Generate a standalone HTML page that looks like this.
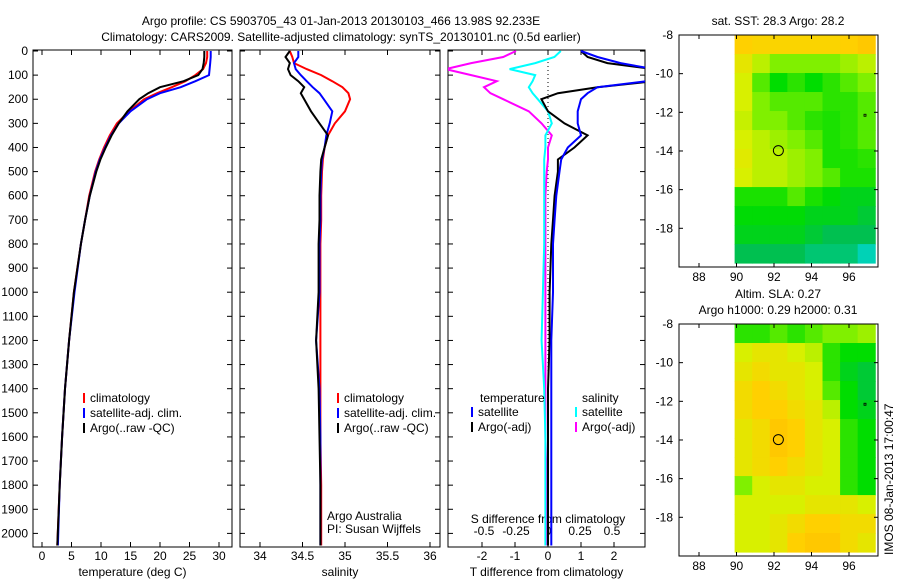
<!DOCTYPE html>
<html><head><meta charset="utf-8"><style>
body{margin:0;background:#fff;}
svg{display:block;font-family:"Liberation Sans",sans-serif;}
text{font-size:12px;fill:#000;}
</style></head><body>
<svg id="s" width="900" height="580" xmlns="http://www.w3.org/2000/svg">
<text x="341" y="25" text-anchor="middle">Argo profile: CS 5903705_43 01-Jan-2013 20130103_466 13.98S 92.233E</text>
<text x="341" y="41" text-anchor="middle">Climatology: CARS2009. Satellite-adjusted climatology: synTS_20130101.nc (0.5d earlier)</text>
<text x="778" y="25" text-anchor="middle">sat. SST: 28.3 Argo: 28.2</text>
<text x="778" y="298" text-anchor="middle">Altim. SLA: 0.27</text>
<text x="778" y="314" text-anchor="middle">Argo h1000: 0.29 h2000: 0.31</text>
<text transform="translate(893,555) rotate(-90)">IMOS 08-Jan-2013 17:00:47</text>
<g id="g"></g>
</svg>
<script>
// ---- data ----
const depthTicks=[0,100,200,300,400,500,600,700,800,900,1000,1100,1200,1300,1400,1500,1600,1700,1800,1900,2000];
const tempTicks=[0,5,10,15,20,25,30];
const salTicks=[34,34.5,35,35.5,36];
const tdTicks=[-2,-1,0,1,2];
const sdTicks=[-0.5,-0.25,0,0.25,0.5];
const lonTicks=[88,90,92,94,96];
const latTicks=[-8,-10,-12,-14,-16,-18];
const depths=[0,25,50,75,100,125,150,175,200,250,300,350,400,450,500,600,700,800,1000,1200,1400,1600,1800,2050];
const tempClim=[28.0,28.0,27.8,27.3,26.0,24.3,22.0,19.5,17.3,14.8,12.7,11.5,10.5,9.7,9.0,8.0,7.3,6.6,5.4,4.6,3.9,3.4,3.0,2.6];
const tempSat =[28.6,28.6,28.5,28.4,28.3,26.0,23.5,20.0,17.8,15.0,13.0,11.7,10.7,9.8,9.1,8.1,7.3,6.6,5.5,4.6,3.9,3.4,3.0,2.7];
const tempArgo=[27.5,27.5,27.4,27.2,26.5,24.0,20.0,18.0,16.5,14.5,13.0,11.8,10.8,9.9,9.2,8.1,7.3,6.6,5.4,4.6,3.9,3.4,3.0,2.6];
const salClim=[34.35,34.38,34.4,34.55,34.72,34.85,34.97,35.04,35.06,35.0,34.88,34.8,34.76,34.74,34.73,34.72,34.72,34.71,34.71,34.71,34.71,34.71,34.72,34.72];
const salSat =[34.45,34.45,34.4,34.42,34.48,34.55,34.62,34.7,34.75,34.85,34.82,34.78,34.76,34.73,34.72,34.71,34.71,34.7,34.7,34.66,34.7,34.71,34.71,34.71];
const salArgo=[34.35,34.3,34.35,34.33,34.36,34.45,34.52,34.48,34.52,34.6,34.7,34.8,34.76,34.72,34.71,34.7,34.7,34.69,34.69,34.66,34.69,34.7,34.71,34.71];
const tdSat =[1.0,1.5,2.2,3.2,3.2,3.0,1.5,1.2,1.0,0.9,0.9,1.0,0.6,0.4,0.35,0.25,0.2,0.15,0.15,0.1,0.1,0.1,0.1,0.1];
const tdArgo=[1.0,1.2,1.8,3.2,3.2,3.2,1.5,0.3,-0.2,0.0,0.5,1.2,0.8,0.3,0.3,0.2,0.15,0.1,0.05,0.05,0.0,0.0,0.0,0.0];
const sdSat =[0.1,0.05,-0.1,-0.3,-0.1,-0.12,-0.15,-0.12,-0.08,0.0,0.03,-0.02,-0.02,-0.03,-0.03,-0.03,-0.03,-0.03,-0.04,-0.05,-0.03,-0.02,-0.02,-0.02];
const sdArgo=[-0.25,-0.35,-0.6,-0.8,-0.6,-0.4,-0.5,-0.45,-0.35,-0.15,-0.05,0.03,0.0,0.0,-0.01,-0.02,-0.02,-0.02,-0.02,-0.02,-0.02,-0.02,-0.01,-0.01];
const sstGrid=[
[.2,.22,.22,.22,.22,.22,.2,.15],
[.3,.4,.5,.5,.5,.5,.45,.4],
[.35,.55,.65,.6,.65,.6,.55,.5],
[.35,.5,.55,.55,.55,.6,.6,.55],
[.38,.5,.5,.55,.6,.62,.6,.55],
[.35,.4,.45,.5,.55,.62,.6,.55],
[.32,.4,.4,.45,.5,.62,.62,.6],
[.35,.4,.4,.45,.5,.55,.62,.62],
[.62,.62,.62,.55,.62,.66,.7,.7],
[.66,.66,.66,.66,.7,.7,.7,.75],
[.7,.7,.7,.7,.75,.8,.8,.8],
[.8,.8,.8,.8,.85,.85,.85,.95]];
const slaGrid=[
[.6,.6,.55,.6,.55,.5,.5,.45],
[.35,.3,.3,.35,.4,.6,.65,.65],
[.3,.25,.3,.3,.35,.6,.7,.75],
[.25,.2,.25,.3,.35,.55,.65,.75],
[.25,.2,.2,.25,.3,.4,.65,.7],
[.3,.25,.15,.2,.3,.35,.6,.65],
[.3,.25,.15,.2,.3,.35,.6,.65],
[.3,.25,.2,.25,.3,.35,.6,.65],
[.5,.35,.3,.3,.35,.35,.6,.65],
[.35,.35,.35,.35,.3,.3,.3,.35],
[.35,.35,.3,.25,.2,.2,.25,.25],
[.35,.35,.3,.2,.15,.15,.25,.3]];
const argoLon=92.233, argoLat=-13.98;

const NS='http://www.w3.org/2000/svg', G=document.getElementById('g');
function el(t,a,p){const e=document.createElementNS(NS,t);for(const k in a)e.setAttribute(k,a[k]);(p||G).appendChild(e);return e;}
function txt(x,y,s,anchor,p){const e=el('text',{x:x,y:y,'text-anchor':anchor||'middle'},p);e.textContent=s;return e;}
const yD=d=>51+d*0.2412;
function lin(d0,d1,p0,p1){return v=>p0+(v-d0)*(p1-p0)/(d1-d0);}

function panel(name,x0,x1,xs,xticks,xfmt,xlab){
  const g=el('g',{});
  
  
  const r=el('rect',{x:x0,y:50,width:x1-x0,height:497,fill:'none',stroke:'#000'},g);
  
  
  xticks.forEach(t=>{const x=xs(t);el('line',{x1:x,x2:x,y1:547,y2:542,stroke:'#000'},g);el('line',{x1:x,x2:x,y1:50,y2:55,stroke:'#000'},g);
    const tl=txt(x,560,xfmt(t),'middle',g);});
  depthTicks.forEach(d=>{el('line',{x1:x0,x2:x0+5,y1:yD(d),y2:yD(d),stroke:'#000'},g);el('line',{x1:x1,x2:x1-5,y1:yD(d),y2:yD(d),stroke:'#000'},g);});
  if(xlab){const l=txt((x0+x1)/2,576,xlab,'middle',g);}
  return g;
}
function line(g,vals,xs,color,name,w){
  const clip=el('clipPath',{id:'c'+name},g);el('rect',{x:g.x0,y:50,width:g.w,height:497},clip);
  const pts=vals.map((v,i)=>xs(v).toFixed(1)+','+yD(depths[i]).toFixed(1)).join(' ');
  const p=el('polyline',{points:pts,fill:'none',stroke:color,'stroke-width':w||2,'clip-path':'url(#c'+name+')'},g);
  
  
}
function legend(g,x,y,items){
  items.forEach((it,i)=>{const yy=y+i*15;el('line',{x1:x,x2:x,y1:yy-9,y2:yy+1,stroke:it[1],'stroke-width':2},g);
    const t=txt(x+6,yy,it[0],'start',g);});
}
// panel 1
const xsT=lin(0,30,42,219);
const p1=panel('temperature',33,232,xsT,tempTicks,String,'temperature (deg C)');p1.x0=33;p1.w=199;
depthTicks.forEach(d=>{const t=txt(28,yD(d)+4,String(d),'end',p1);});
line(p1,tempClim,xsT,'#f00','temp-climatology-line');
line(p1,tempSat,xsT,'#00f','temp-satellite-line');
line(p1,tempArgo,xsT,'#000','temp-argo-line');
legend(p1,84,402,[['climatology','#f00'],['satellite-adj. clim.','#00f'],['Argo(..raw -QC)','#000']]);
// panel 2
const xsS=lin(34,36,260,430);
const p2=panel('salinity',240,440,xsS,salTicks,String,'salinity');p2.x0=240;p2.w=200;
line(p2,salClim,xsS,'#f00','sal-climatology-line');
line(p2,salSat,xsS,'#00f','sal-satellite-line');
line(p2,salArgo,xsS,'#000','sal-argo-line');
legend(p2,338,402,[['climatology','#f00'],['satellite-adj. clim.','#00f'],['Argo(..raw -QC)','#000']]);
const a1=txt(327,520,'Argo Australia','start',p2);
const a2=txt(327,533,'PI: Susan Wijffels','start',p2);
// panel 3
const xsTD=lin(0,1,548,581), xsSD=lin(0,0.5,548,612);
const p3=panel('difference',448,645,xsTD,tdTicks,String,'T difference from climatology');p3.x0=448;p3.w=197;
el('line',{x1:548,x2:548,y1:50,y2:547,stroke:'#000','stroke-dasharray':'1,3'},p3);
sdTicks.forEach(t=>{const tl=txt(xsSD(t),535,String(t),'middle',p3);});
const sl=txt(548,523,'S difference from climatology','middle',p3);
line(p3,sdArgo,xsSD,'#f0f','sdiff-argo-line');
line(p3,sdSat,xsSD,'#0ff','sdiff-satellite-line');
line(p3,tdArgo,xsTD,'#000','tdiff-argo-line');
line(p3,tdSat,xsTD,'#00f','tdiff-satellite-line');
const lh1=txt(480,402,'temperature','start',p3);
const lh2=txt(582,402,'salinity','start',p3);
legend(p3,472,416,[['satellite','#00f'],['Argo(-adj)','#000']]);
legend(p3,576,416,[['satellite','#0ff'],['Argo(-adj)','#f0f']]);
// maps
const stops=[[0,[255,176,0]],[0.2,[255,208,0]],[0.35,[216,240,0]],[0.5,[128,240,0]],[0.65,[0,221,0]],[0.8,[0,192,80]],[1,[0,216,216]]];
function cmap(v){for(let i=1;i<stops.length;i++){if(v<=stops[i][0]){const a=stops[i-1],b=stops[i],f=(v-a[0])/(b[0]-a[0]);return 'rgb('+a[1].map((c,j)=>Math.round(c+(b[1][j]-c)*f)).join(',')+')';}}return 'rgb(0,216,216)';}
function map(name,top,grid){
  const g=el('g',{});
  
  
  const xs=lin(88,96,699,849), ys=lin(-8,-18,top,top+193.3);
  const lon0=89.9,lon1=97.4,lat0=-8,lat1=-19.8,nr=grid.length,nc=grid[0].length;
  grid.forEach((row,r)=>row.forEach((v,c)=>{
    const la=lat0+(lat1-lat0)*r/nr, lb=lat0+(lat1-lat0)*(r+1)/nr;
    const oa=lon0+(lon1-lon0)*c/nc, ob=lon0+(lon1-lon0)*(c+1)/nc;
    const cell=el('rect',{x:xs(oa),y:ys(la),width:xs(ob)-xs(oa)+0.5,height:ys(lb)-ys(la)+0.5,fill:cmap(v)},g);
    
    
  }));
  const b=el('rect',{x:679,y:top,width:199,height:232,fill:'none',stroke:'#000'},g);
  
  
  lonTicks.forEach(t=>{const x=xs(t);el('line',{x1:x,x2:x,y1:top,y2:top+4,stroke:'#000'},g);el('line',{x1:x,x2:x,y1:top+232,y2:top+228,stroke:'#000'},g);
    const l=txt(x,top+246,String(t),'middle',g);});
  latTicks.forEach(t=>{const y=ys(t);el('line',{x1:679,x2:683,y1:y,y2:y,stroke:'#000'},g);el('line',{x1:878,x2:874,y1:y,y2:y,stroke:'#000'},g);
    const l=txt(673,y+4,String(t),'end',g);});
  const c=el('circle',{cx:xs(argoLon),cy:ys(argoLat),r:5,fill:'none',stroke:'#000'},g);
  
  
  el('rect',{x:xs(96.8),y:ys(-12.1),width:2,height:2,fill:'none',stroke:'#000','stroke-width':0.8},g);
}
map('sst-map',35,sstGrid);
map('sla-map',324,slaGrid);
</script>
</body></html>
